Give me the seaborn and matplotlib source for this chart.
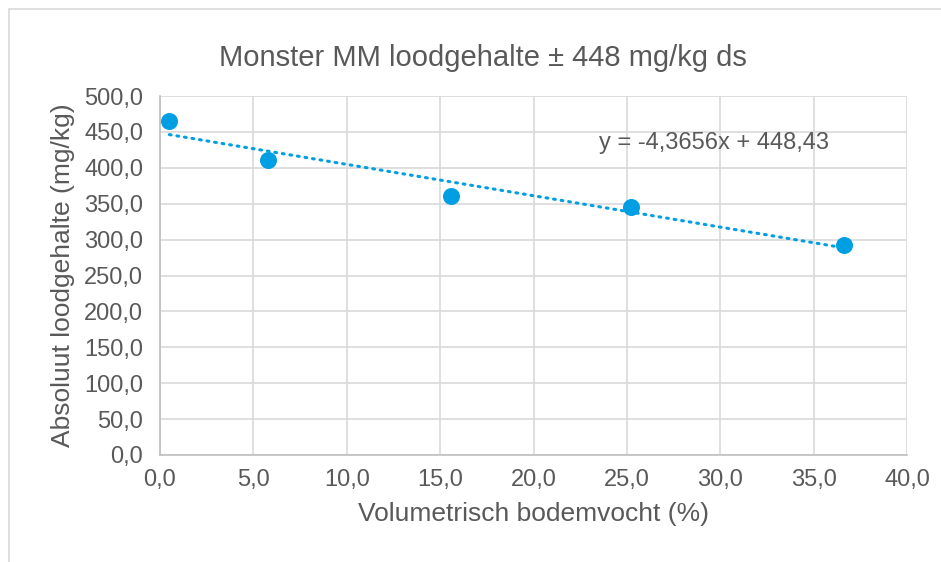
import numpy as np
import pandas as pd
import matplotlib
matplotlib.use("Agg")
import matplotlib.pyplot as plt
import seaborn as sns
from matplotlib.ticker import FuncFormatter, MultipleLocator
from matplotlib.patches import Rectangle

# data
vocht = [0.5, 5.8, 15.6, 25.2, 36.6]
lood = [465.0, 411.5, 361.0, 346.0, 293.0]
slope = -4.3656
intercept = 448.43

df = pd.DataFrame({"vocht": vocht, "lood": lood})

sns.set_style("white")
plt.rcParams['font.family'] = ['Liberation Sans', 'DejaVu Sans']
grey = "#595959"
blue = "#009FE3"

fig = plt.figure(figsize=(9.41, 5.62), dpi=100)
ax = fig.add_axes([160 / 941, 1 - 455 / 562, 747 / 941, 359 / 562])

# chart border
fig.patches.append(Rectangle((9 / 941, -0.01), 1.0, 1 - 9 / 562 + 0.01,
                             transform=fig.transFigure, fill=False,
                             edgecolor="#D9D9D9", linewidth=1.2))

# trendline
xs = np.array([min(vocht), max(vocht)])
ax.plot(xs, slope * xs + intercept, color=blue, linewidth=2.2,
        linestyle=(0, (0.6, 1.9)), dash_capstyle="round", zorder=2)

sns.scatterplot(data=df, x="vocht", y="lood", ax=ax, s=150, color=blue,
                edgecolor=blue, linewidth=0, zorder=3)

ax.set_xlim(0, 40)
ax.set_ylim(0, 500)
ax.xaxis.set_major_locator(MultipleLocator(5))
ax.yaxis.set_major_locator(MultipleLocator(50))
fmt = FuncFormatter(lambda v, p: f"{v:.1f}".replace(".", ","))
ax.xaxis.set_major_formatter(fmt)
ax.yaxis.set_major_formatter(fmt)

ax.grid(True, color="#D9D9D9", linewidth=1.2)
ax.set_axisbelow(True)
for side in ["top", "right"]:
    ax.spines[side].set_visible(False)
for side in ["left", "bottom"]:
    ax.spines[side].set_color("#BFBFBF")
    ax.spines[side].set_linewidth(1.2)
ax.tick_params(length=0, labelsize=17, colors=grey)
ax.tick_params(axis="x", pad=10)
ax.tick_params(axis="y", pad=12)

ax.set_xlabel("Volumetrisch bodemvocht (%)", fontsize=19, color=grey, labelpad=8)
ax.set_ylabel("Absoluut loodgehalte (mg/kg)", fontsize=19, color=grey, labelpad=7)
fig.text(483 / 941, 1 - 58 / 562, "Monster MM loodgehalte ± 448 mg/kg ds",
         fontsize=21, color=grey, ha="center", va="center")

ax.text(23.5, 434, "y = -4,3656x + 448,43", fontsize=17, color=grey,
        va="center", ha="left")

fig.savefig("out.png", dpi=100)
